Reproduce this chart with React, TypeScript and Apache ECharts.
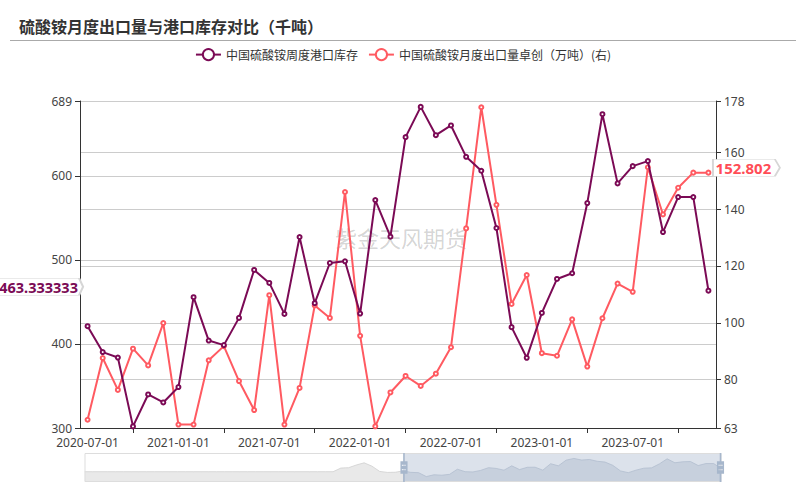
import React, { useEffect, useRef } from "react";
import * as echarts from "echarts";

// ---- data ----
// Months from 2017-02 to 2023-12 (83 categories); the view shows 2020-07 .. 2023-12
function buildMonths(y0: number, m0: number, n: number): string[] {
  const out: string[] = [];
  let y = y0;
  let m = m0;
  for (let i = 0; i < n; i++) {
    out.push(`${y}-${String(m).padStart(2, "0")}-01`);
    m++;
    if (m > 12) { m = 1; y++; }
  }
  return out;
}
const categories = buildMonths(2017, 2, 83);
const viewStart = "2020-07-01";
const viewEnd = "2023-12-01";

// port inventory before the visible window (read from the zoom slider's shadow)
const inventoryHistory = [
  404, 404, 404, 404, 404, 404, 404, 404, 404, 404,
  404, 404, 404, 404, 404, 404, 404, 404, 404, 404,
  404, 404, 404, 404, 404, 404, 404, 404, 404, 404,
  404, 404, 404, 480, 488, 545, 590, 520, 410, 389,
  392,
];
// 中国硫酸铵周度港口库存 (left axis), 2020-07 .. 2023-12
const inventory = [
  421.1, 390.3, 383.8, 301.9, 339.9, 330.4, 348.7, 455.6, 404.0, 398.6,
  431.0, 488.0, 472.6, 435.7, 527.2, 448.5, 496.3, 498.3, 436.1, 571.1,
  527.6, 646.0, 682.0, 648.3, 659.9, 622.6, 606.0, 537.9, 420.0, 383.5,
  436.9, 477.3, 484.1, 567.6, 673.3, 591.0, 611.5, 617.5, 533.1, 574.7,
  574.7, 463.333333,
];
// 中国硫酸铵月度出口量卓创（万吨）(右), 2020-07 .. 2023-12
const exportsVals = [
  65.9, 87.6, 76.4, 90.9, 85.0, 99.9, 64.2, 64.2, 86.8, 91.8,
  79.5, 69.3, 109.7, 64.2, 77.1, 106.1, 101.7, 146.0, 95.4, 63.6,
  75.5, 81.3, 77.8, 82.1, 91.4, 133.2, 175.8, 141.5, 106.6, 116.8,
  89.3, 88.4, 101.2, 84.6, 101.6, 113.8, 110.9, 154.7, 138.1, 147.5,
  152.802, 152.802,
];
const leftAxisRange = [300, 689];
const rightAxisRange = [63, 178];

const seriesNames = ["中国硫酸铵周度港口库存", "中国硫酸铵月度出口量卓创（万吨）(右)"];
const titleText = "硫酸铵月度出口量与港口库存对比（千吨）";
const watermark = "紫金天风期货";

const PURPLE = "#7b0a55";
const RED = "#ff5a61";
const FONT = "'Noto Sans', 'Noto Sans CJK SC', sans-serif";

const EC4_HANDLE =
  "path://M8.2,13.6V3.9H6.3v9.7H3.1v14.9h3.3v9.7h1.8v-9.7h3.3V13.6H8.2z M9.7,24.4H4.8v-1.4h4.9V24.4z M9.7,19.1H4.8v-1.4h4.9V19.1z";

export default function App() {
  const ref = useRef<HTMLDivElement | null>(null);

  useEffect(() => {
    if (!ref.current) return;
    const chart = echarts.init(ref.current, undefined, { renderer: "svg" });

    const inventoryAll = [...inventoryHistory, ...inventory];
    const exportsAll = [...inventoryHistory.map(() => null), ...exportsVals];
    const lastInv = inventory[inventory.length - 1];
    const lastExp = exportsVals[exportsVals.length - 1];

    const isLabelMonth = (_i: number, v: string) => /-(01|07)-01$/.test(v);
    const isTickMonth = (_i: number, v: string) => /-(04|10)-01$/.test(v);

    const axisCommon = {
      axisLine: { show: true, lineStyle: { color: "#333", width: 1 } },
      axisTick: { show: true, length: 5, lineStyle: { color: "#333" } },
      axisLabel: { color: "#444", fontSize: 12, margin: 8, fontFamily: FONT },
      splitLine: { show: true, lineStyle: { color: "#cccccc", width: 1 } },
    };

    chart.setOption({
      animation: false,
      backgroundColor: "#fff",
      textStyle: { fontFamily: FONT },
      title: {
        text: titleText,
        left: 14,
        top: 13,
        textStyle: {
          fontSize: 16,
          fontWeight: "bold",
          color: "#333",
          fontFamily: "'Noto Sans CJK SC', serif",
        },
      },
      legend: {
        top: 43,
        left: "center",
        itemWidth: 25,
        itemHeight: 14,
        itemGap: 10,
        textStyle: { fontSize: 12, color: "#333", fontFamily: "'Noto Sans CJK SC', sans-serif" },
        data: seriesNames,
      },
      graphic: [
        {
          type: "line",
          shape: { x1: 10, y1: 40.5, x2: 796, y2: 40.5 },
          style: { stroke: "#aaa", lineWidth: 1 },
        },
        {
          type: "text",
          left: 335,
          top: 226,
          z: 0,
          style: {
            text: watermark,
            fontSize: 22,
            fill: "rgba(0,0,0,0.18)",
            fontFamily: "'Noto Sans CJK SC', sans-serif",
          },
        },
      ],
      grid: { left: 80, right: 90, top: 101, bottom: 62, containLabel: false, outerBoundsMode: "none" },
      xAxis: {
        type: "category",
        data: categories,
        boundaryGap: true,
        axisLine: { show: true, lineStyle: { color: "#333" } },
        axisTick: {
          show: true,
          alignWithLabel: true,
          interval: isTickMonth,
          length: 5,
          lineStyle: { color: "#333" },
        },
        axisLabel: { interval: isLabelMonth, color: "#444", fontSize: 12, margin: 8, fontFamily: FONT },
        splitLine: { show: false },
      },
      yAxis: [
        { type: "value", position: "left", min: leftAxisRange[0], max: leftAxisRange[1], ...axisCommon },
        { type: "value", position: "right", min: rightAxisRange[0], max: rightAxisRange[1], ...axisCommon },
      ],
      dataZoom: [
        {
          type: "slider",
          xAxisIndex: 0,
          filterMode: "filter",
          startValue: viewStart,
          endValue: viewEnd,
          left: 82,
          right: 87,
          top: 453,
          height: 29,
          showDetail: false,
          brushSelect: false,
          moveHandleSize: 0,
          moveHandleStyle: { opacity: 0 },
          handleIcon: EC4_HANDLE,
          handleSize: "100%",
          handleStyle: { color: "#a7b7cc", borderColor: "#a7b7cc", borderWidth: 0 },
          fillerColor: "rgba(167,183,204,0.4)",
          borderColor: "#ddd",
          backgroundColor: "rgba(47,69,84,0)",
          dataBackground: {
            lineStyle: { color: "#cfcfcf", width: 0.8, opacity: 1 },
            areaStyle: { color: "#e4e4e4", opacity: 0.8 },
          },
          selectedDataBackground: {
            lineStyle: { color: "#b9c3d1", width: 0.8, opacity: 1 },
            areaStyle: { color: "#b9c3d1", opacity: 0.5 },
          },
        },
      ],
      series: [
        {
          name: seriesNames[0],
          type: "line",
          yAxisIndex: 0,
          data: inventoryAll,
          symbol: "emptyCircle",
          symbolSize: 4,
          showAllSymbol: true,
          lineStyle: { width: 2, color: PURPLE },
          itemStyle: { color: PURPLE, borderWidth: 1 },
          z: 3,
          markPoint: {
            symbol: "path://M0,0H83L87,8.5L83,17H0Z",
            symbolSize: [87, 17],
            symbolKeepAspect: false,
            symbolOffset: [-48, -4],
            itemStyle: { color: "#fff", borderColor: "#d6d6d6", borderWidth: 1 },
            label: {
              show: true,
              position: "inside",
              offset: [-1, 0],
              color: PURPLE,
              fontWeight: "bold",
              fontSize: 14.5,
              fontFamily: FONT,
              formatter: () => String(lastInv),
            },
            data: [{ coord: [viewStart, lastInv], value: lastInv }],
          },
        },
        {
          name: seriesNames[1],
          type: "line",
          yAxisIndex: 1,
          data: exportsAll,
          symbol: "emptyCircle",
          symbolSize: 4,
          showAllSymbol: true,
          lineStyle: { width: 2, color: RED },
          itemStyle: { color: RED, borderWidth: 1 },
          z: 2,
          markPoint: {
            symbol: "path://M0,0H62L67,8.5L62,17H0Z",
            symbolSize: [67, 17],
            symbolKeepAspect: false,
            symbolOffset: [38, -5],
            itemStyle: { color: "#fff", borderColor: "#d6d6d6", borderWidth: 1 },
            label: {
              show: true,
              position: "inside",
              offset: [-3, 0],
              color: "#ff4d56",
              fontWeight: "bold",
              fontSize: 15,
              fontFamily: FONT,
              formatter: () => String(lastExp),
            },
            data: [{ coord: [viewEnd, lastExp], value: lastExp }],
          },
        },
      ],
    });

    return () => chart.dispose();
  }, []);

  return (
    <div
      ref={ref}
      style={{ position: "fixed", left: 0, top: 0, width: 806, height: 490, background: "#fff" }}
    />
  );
}
